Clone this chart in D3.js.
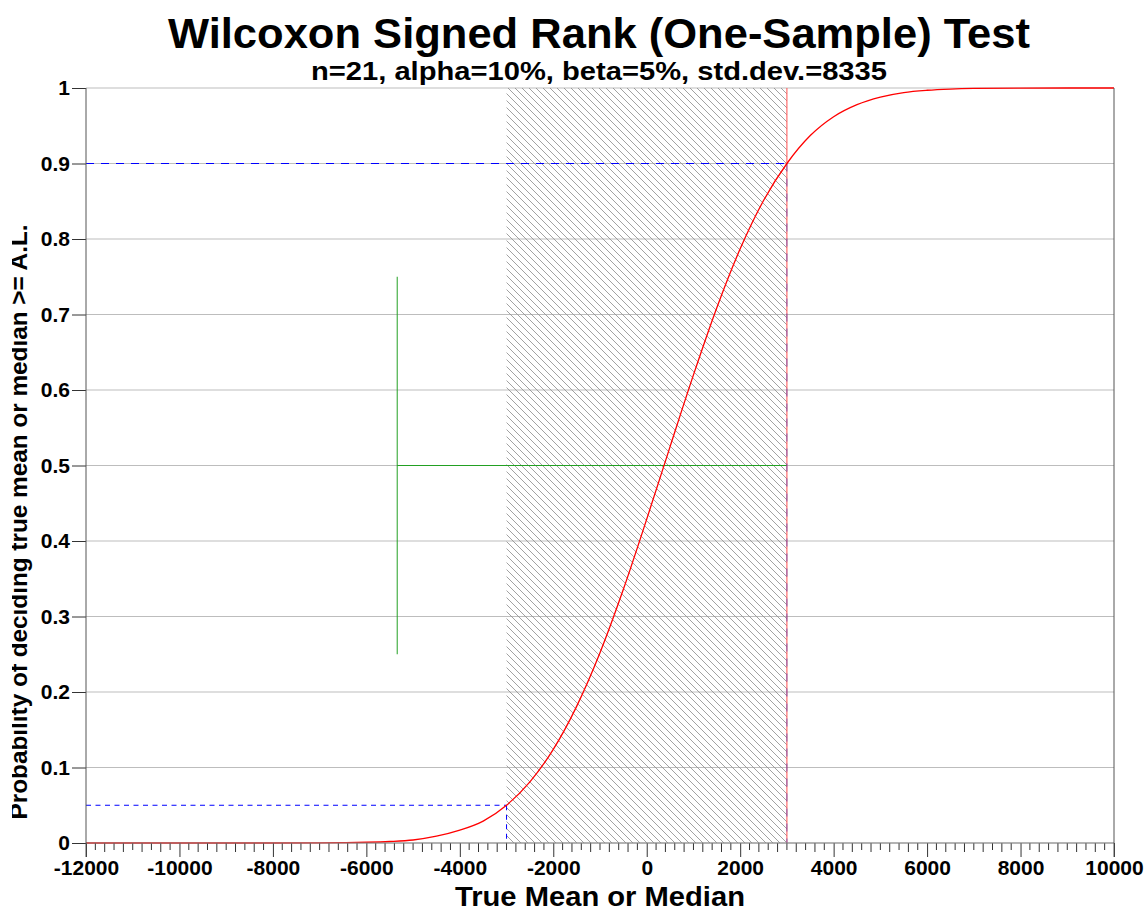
<!DOCTYPE html>
<html>
<head>
<meta charset="utf-8">
<script src="https://cdn.jsdelivr.net/npm/d3@7"></script>
<style>
  body { margin: 0; background: #fff; }
  text { font-family: "Liberation Sans", Arial, sans-serif; font-weight: bold; }
</style>
</head>
<body>
<div id="chart"></div>
<script>
// Chart values
const titleText = "Wilcoxon Signed Rank (One-Sample) Test";
const subtitleText = "n=21, alpha=10%, beta=5%, std.dev.=8335";
const xLabel = "True Mean or Median";
const yLabel = "Probability of deciding true mean or median >= A.L.";

const xTicks = [-12000, -10000, -8000, -6000, -4000, -2000, 0, 2000, 4000, 6000, 8000, 10000];
const yTicks = [0, 0.1, 0.2, 0.3, 0.4, 0.5, 0.6, 0.7, 0.8, 0.9, 1];

// power curve (true mean -> probability)
const curveX = [-12000, -9000, -8000, -7000, -6500, -6000, -5500, -5000, -4500, -4000, -3500, -3000,
  -2500, -2000, -1500, -1000, -500, 0, 500, 1000, 1500, 2000, 2500, 3000,
  3500, 4000, 4500, 5000, 5500, 6000, 6500, 7000, 8000, 10000];
const curveP = [0, 0, 0.00002, 0.0002, 0.0005, 0.001, 0.002, 0.004, 0.009, 0.017, 0.029, 0.05,
  0.081, 0.124, 0.181, 0.252, 0.336, 0.429, 0.525, 0.62, 0.709, 0.787, 0.851, 0.9,
  0.937, 0.962, 0.978, 0.988, 0.994, 0.997, 0.9986, 0.9994, 0.9999, 1];

// gray region and the two error-rate points
const grayRegion = [-3000, 3000];
const betaPoint = { x: -3000, p: 0.05 };
const alphaPoint = { x: 3000, p: 0.9 };

// green cross marker
const crossX = -5340;
const crossSpan = [0.25, 0.75];
const crossMid = 0.5;

const W = 1147, H = 912;
const plotLeft = 86, plotRight = 1114, plotTop = 88, plotBottom = 843;

const svg = d3.select("#chart").append("svg")
  .attr("width", W)
  .attr("height", H);

const x = d3.scaleLinear().domain([-12000, 10000]).range([plotLeft, plotRight]);
const y = d3.scaleLinear().domain([0, 1]).range([plotBottom, plotTop]);

// hatch pattern for the gray region
const defs = svg.append("defs");
const pat = defs.append("pattern")
  .attr("id", "hatch")
  .attr("patternUnits", "userSpaceOnUse")
  .attr("width", 7)
  .attr("height", 7);
pat.append("path")
  .attr("d", "M-1,-1L8,8M-1,6L1,8M6,-1L8,1")
  .attr("stroke", "#8a8a8a")
  .attr("stroke-width", 0.8)
  .attr("fill", "none");

defs.append("clipPath").attr("id", "ylabclip")
  .append("rect")
  .attr("x", 12).attr("y", 0).attr("width", 100).attr("height", H);

// gridlines
svg.append("g").selectAll("line")
  .data(yTicks)
  .enter().append("line")
  .attr("x1", plotLeft).attr("x2", plotRight)
  .attr("y1", d => y(d)).attr("y2", d => y(d))
  .attr("stroke", "#bdbdbd")
  .attr("stroke-width", 1);

// hatched gray region
svg.append("rect")
  .attr("x", x(grayRegion[0]))
  .attr("y", y(1))
  .attr("width", x(grayRegion[1]) - x(grayRegion[0]))
  .attr("height", y(0) - y(1))
  .attr("fill", "url(#hatch)");

// green cross
svg.append("line")
  .attr("x1", x(crossX)).attr("x2", x(crossX))
  .attr("y1", y(crossSpan[0])).attr("y2", y(crossSpan[1]))
  .attr("stroke", "#22a022").attr("stroke-width", 1);
svg.append("line")
  .attr("x1", x(crossX)).attr("x2", x(alphaPoint.x))
  .attr("y1", y(crossMid)).attr("y2", y(crossMid))
  .attr("stroke", "#22a022").attr("stroke-width", 1);

// red vertical at the upper limit
svg.append("line")
  .attr("x1", x(grayRegion[1])).attr("x2", x(grayRegion[1]))
  .attr("y1", y(1)).attr("y2", y(0))
  .attr("stroke", "#ff5050").attr("stroke-width", 1);

// dashed guide lines
svg.append("line")
  .attr("x1", x(-12000)).attr("x2", x(alphaPoint.x))
  .attr("y1", y(alphaPoint.p)).attr("y2", y(alphaPoint.p))
  .attr("stroke", "#0000ff").attr("stroke-width", 1)
  .attr("stroke-dasharray", "8,7");
svg.append("line")
  .attr("x1", x(alphaPoint.x)).attr("x2", x(alphaPoint.x))
  .attr("y1", y(alphaPoint.p)).attr("y2", y(0))
  .attr("stroke", "#3030c0").attr("stroke-width", 1)
  .attr("stroke-dasharray", "8,7")
  .attr("opacity", 0.6);
svg.append("line")
  .attr("x1", x(-12000)).attr("x2", x(betaPoint.x))
  .attr("y1", y(betaPoint.p)).attr("y2", y(betaPoint.p))
  .attr("stroke", "#0000ff").attr("stroke-width", 1)
  .attr("stroke-dasharray", "5,4.5");
svg.append("line")
  .attr("x1", x(betaPoint.x)).attr("x2", x(betaPoint.x))
  .attr("y1", y(betaPoint.p)).attr("y2", y(0))
  .attr("stroke", "#0000ff").attr("stroke-width", 1)
  .attr("stroke-dasharray", "5,4.5");

// power curve
const curveData = curveX.map((v, i) => ({ x: v, p: curveP[i] }));
const line = d3.line()
  .x(d => x(d.x))
  .y(d => y(d.p))
  .curve(d3.curveMonotoneX);
svg.append("path")
  .datum(curveData)
  .attr("fill", "none")
  .attr("stroke", "#ff0000")
  .attr("stroke-width", 1.3)
  .attr("d", line);

// x axis: minor ticks
const minorTicks = d3.range(-12000, 10001, 200).filter(v => v % 2000 !== 0);
svg.append("g").selectAll("line")
  .data(minorTicks)
  .enter().append("line")
  .attr("x1", d => x(d)).attr("x2", d => x(d))
  .attr("y1", plotBottom)
  .attr("y2", d => plotBottom + (d % 400 === 0 ? 9 : 7))
  .attr("stroke", "#333").attr("stroke-width", 1);

// x axis: major ticks and labels (plain hyphen for minus)
const xAxis = d3.axisBottom(x)
  .tickValues(xTicks)
  .tickSize(14)
  .tickPadding(3)
  .tickFormat(d => String(d));
const gx = svg.append("g")
  .attr("transform", "translate(0," + plotBottom + ")")
  .call(xAxis);
gx.select(".domain").remove();
gx.selectAll(".tick line").attr("stroke", "#333");
gx.selectAll(".tick text")
  .attr("font-size", "21px")
  .attr("font-family", "Liberation Sans, Arial, sans-serif")
  .attr("font-weight", "bold")
  .attr("fill", "#000");

// bottom axis line
svg.append("line")
  .attr("x1", plotLeft).attr("x2", plotRight)
  .attr("y1", plotBottom).attr("y2", plotBottom)
  .attr("stroke", "#888").attr("stroke-width", 1);

// y axis
const yAxis = d3.axisLeft(y)
  .tickValues(yTicks)
  .tickSize(14)
  .tickPadding(2)
  .tickFormat(d3.format("~g"));
const gy = svg.append("g")
  .attr("transform", "translate(" + plotLeft + ",0)")
  .call(yAxis);
gy.select(".domain").remove();
gy.selectAll(".tick line").attr("stroke", "#333");
gy.selectAll(".tick text")
  .attr("font-size", "21px")
  .attr("font-family", "Liberation Sans, Arial, sans-serif")
  .attr("font-weight", "bold")
  .attr("fill", "#000");

// left and right frame lines
[plotLeft, plotRight].forEach(px => {
  svg.append("line")
    .attr("x1", px).attr("x2", px)
    .attr("y1", plotTop).attr("y2", plotBottom + 14)
    .attr("stroke", "#555").attr("stroke-width", 1);
});

// titles
svg.append("text")
  .attr("x", 599).attr("y", 48)
  .attr("text-anchor", "middle")
  .attr("font-size", "43px")
  .attr("textLength", 862)
  .attr("lengthAdjust", "spacingAndGlyphs")
  .text(titleText);
svg.append("text")
  .attr("x", 599).attr("y", 80)
  .attr("text-anchor", "middle")
  .attr("font-size", "25px")
  .attr("textLength", 576)
  .attr("lengthAdjust", "spacingAndGlyphs")
  .text(subtitleText);
svg.append("text")
  .attr("x", 600).attr("y", 906)
  .attr("text-anchor", "middle")
  .attr("font-size", "28px")
  .attr("textLength", 290)
  .attr("lengthAdjust", "spacingAndGlyphs")
  .text(xLabel);
svg.append("g")
  .attr("clip-path", "url(#ylabclip)")
  .append("text")
  .attr("transform", "translate(27,522) rotate(-90)")
  .attr("text-anchor", "middle")
  .attr("font-size", "23px")
  .attr("textLength", 595)
  .attr("lengthAdjust", "spacingAndGlyphs")
  .text(yLabel);
</script>
</body>
</html>
